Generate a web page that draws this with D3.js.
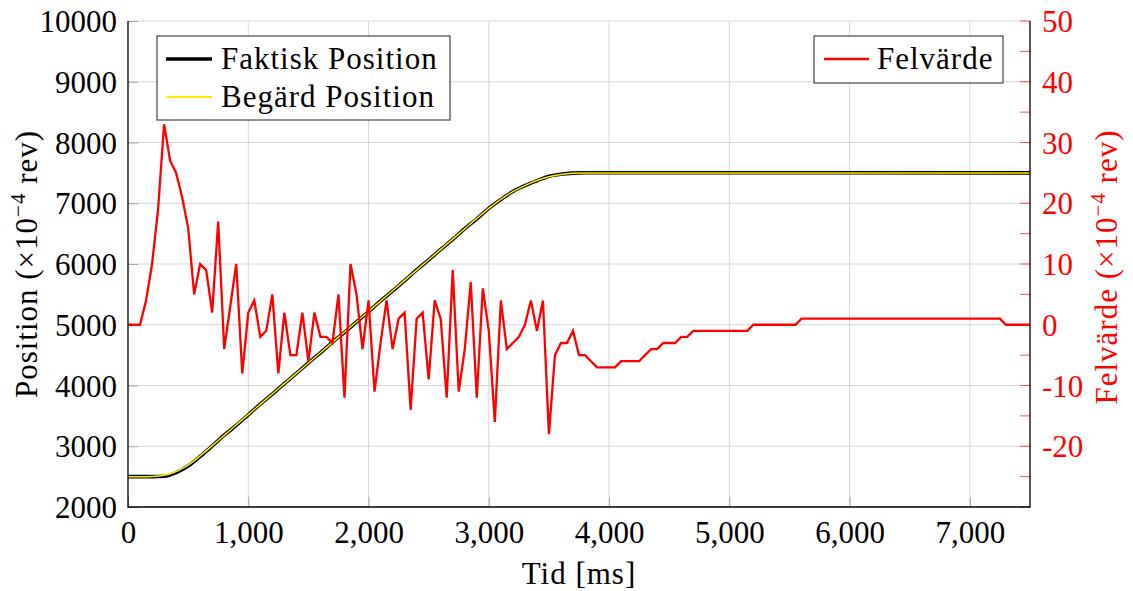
<!DOCTYPE html>
<html>
<head>
<meta charset="utf-8">
<script src="https://cdn.jsdelivr.net/npm/d3@7"></script>
<style>
	body { margin: 0; background: #fff; }
	text { font-family: 'Liberation Serif', 'Times New Roman', serif; }
</style>
</head>
<body>
<script>

// ------------------------ DATA ------------------------
// position samples (ms) and the two position curves (x10^-4 rev)
var posTime = [0, 100, 200, 300, 400, 500, 600, 700, 800, 900,
	1000, 1100, 1200, 1300, 1400, 1500, 1600, 1700, 1800, 1900,
	2000, 2100, 2200, 2300, 2400, 2500, 2600, 2700, 2800, 2900,
	3000, 3100, 3200, 3300, 3400, 3500, 3600, 3700, 3800, 7500];

var begardPos = [2500, 2500, 2503, 2521, 2585, 2691, 2840, 3010, 3180, 3350,
	3520, 3690, 3860, 4030, 4200, 4370, 4540, 4710, 4880, 5050,
	5220, 5390, 5560, 5730, 5900, 6070, 6240, 6410, 6580, 6750,
	6915, 7065, 7190, 7290, 7375, 7435, 7475, 7495, 7500, 7500];

var faktiskPos = [2500, 2500, 2500, 2505, 2565, 2675, 2832, 3005, 3182, 3342,
	3518, 3692, 3858, 4032, 4198, 4372, 4538, 4713, 4875, 5046,
	5216, 5393, 5556, 5728, 5902, 6068, 6239, 6404, 6582, 6744,
	6916, 7061, 7193, 7290, 7371, 7445, 7478, 7496, 7502, 7500];

// error signal, one sample every 50 ms from 0 to 7500 (x10^-4 rev)
var SAMPLE_MS = 50;
var felvarde = [
	0, 0, 0, 4, 10, 19, 33, 27, 25, 21,
	16, 5, 10, 9, 2, 17, -4, 3, 10, -8,
	2, 4, -2, -1, 5, -8, 2, -5, -5, 2,
	-6, 2, -2, -2, -3, 5, -12, 10, 5, -4,
	4, -11, -3, 4, -4, 1, 2, -14, 1, 2,
	-9, 4, 1, -12, 9, -11, -4, 7, -12, 6,
	-1, -16, 4, -4, -3, -2, 0, 4, -1, 4,
	-18, -5, -3, -3, -1, -5, -5, -6, -7, -7,
	-7, -7, -6, -6, -6, -6, -5, -4, -4, -3,
	-3, -3, -2, -2, -1, -1, -1, -1, -1, -1,
	-1, -1, -1, -1, 0, 0, 0, 0, 0, 0,
	0, 0, 1, 1, 1, 1, 1, 1, 1, 1,
	1, 1, 1, 1, 1, 1, 1, 1, 1, 1,
	1, 1, 1, 1, 1, 1, 1, 1, 1, 1,
	1, 1, 1, 1, 1, 1, 0, 0, 0, 0,
	0];

// tick values
var xTicks = [0, 1000, 2000, 3000, 4000, 5000, 6000, 7000];
var leftTicks = [2000, 3000, 4000, 5000, 6000, 7000, 8000, 9000, 10000];
var rightTicks = [-20, -10, 0, 10, 20, 30, 40, 50];
var rightMinor = [-30, -25, -20, -15, -10, -5, 0, 5, 10, 15, 20, 25, 30, 35, 40, 45, 50];

// ------------------------ LAYOUT ------------------------
var W = 1133, H = 591;
var L = 128, R = 1030, T = 21, B = 507;
var FONT = 31;
var SPACING = '1px';   // liberation serif runs a bit narrower than the original face
var GRID = '#d6d6d6';
var RED = '#ff0000';

var x = d3.scaleLinear().domain([0, 7500]).range([L, R]);
var yL = d3.scaleLinear().domain([2000, 10000]).range([B, T]);
var yR = d3.scaleLinear().domain([-30, 50]).range([B, T]);

var svg = d3.select('body').append('svg')
	.attr('width', W)
	.attr('height', H);

// ------------------------ GRID ------------------------
svg.append('g').selectAll('line.gx')
	.data(xTicks.slice(1))
	.enter().append('line')
	.attr('x1', function(d) { return x(d); })
	.attr('x2', function(d) { return x(d); })
	.attr('y1', T).attr('y2', B)
	.attr('stroke', GRID).attr('stroke-width', 1);

svg.append('g').selectAll('line.gy')
	.data(leftTicks.slice(1))
	.enter().append('line')
	.attr('x1', L).attr('x2', R)
	.attr('y1', function(d) { return yL(d); })
	.attr('y2', function(d) { return yL(d); })
	.attr('stroke', GRID).attr('stroke-width', 1);

// ------------------------ AXES ------------------------
// gray inner ticks on left and bottom, labels drawn by d3 axes
var axLeft = svg.append('g')
	.attr('transform', 'translate(' + L + ',0)')
	.call(d3.axisLeft(yL).tickValues(leftTicks).tickSize(-10).tickPadding(11).tickFormat(d3.format('d')));

var axBottom = svg.append('g')
	.attr('transform', 'translate(0,' + B + ')')
	.call(d3.axisBottom(x).tickValues(xTicks).tickSize(-10).tickPadding(12).tickFormat(d3.format(',')));

var axRight = svg.append('g')
	.attr('transform', 'translate(' + R + ',0)')
	.call(d3.axisRight(yR).tickValues(rightTicks).tickSize(0).tickPadding(12).tickFormat(function(d) { return d < 0 ? '-' + Math.abs(d) : d; }));

[axLeft, axBottom, axRight].forEach(function(a) {
	a.select('.domain').remove();
	a.selectAll('text')
		.attr('font-family', "'Liberation Serif', serif")
		.attr('font-size', FONT)
		.attr('fill', '#000');
	a.selectAll('.tick line').attr('stroke', '#a8a8a8');
});
axLeft.selectAll('text').attr('dy', '0.34em');
axBottom.selectAll('text').attr('dy', '0.78em');
axRight.selectAll('text').attr('fill', RED).attr('dy', '0.34em');

// red minor + major ticks on right side, pointing inward
svg.append('g').selectAll('line')
	.data(rightMinor)
	.enter().append('line')
	.attr('x1', R - 10).attr('x2', R)
	.attr('y1', function(d) { return yR(d); })
	.attr('y2', function(d) { return yR(d); })
	.attr('stroke', '#ff5050').attr('stroke-width', 1);

// ------------------------ LINES ------------------------
var posLine = function(vals) {
	return d3.line()
		.x(function(d, i) { return x(posTime[i]); })
		.y(function(d) { return yL(d); })
		.curve(d3.curveMonotoneX)(vals);
};

svg.append('path')
	.attr('d', posLine(faktiskPos))
	.attr('fill', 'none')
	.attr('stroke', '#000')
	.attr('stroke-width', 3.6);

svg.append('path')
	.attr('d', posLine(begardPos))
	.attr('fill', 'none')
	.attr('stroke', '#ffee00')
	.attr('stroke-width', 1.5);

var errLine = d3.line()
	.x(function(d, i) { return x(i * SAMPLE_MS); })
	.y(function(d) { return yR(d); });

svg.append('path')
	.attr('d', errLine(felvarde))
	.attr('fill', 'none')
	.attr('stroke', RED)
	.attr('stroke-width', 2.3)
	.attr('stroke-linejoin', 'miter');

// axis frame: left, bottom, right in black
svg.append('path')
	.attr('d', 'M' + L + ',' + T + 'V' + B + 'H' + R + 'V' + T)
	.attr('fill', 'none')
	.attr('stroke', '#000')
	.attr('stroke-width', 1.3);

// ------------------------ LEGENDS ------------------------
var leg1 = svg.append('g');
leg1.append('rect')
	.attr('x', 157).attr('y', 36).attr('width', 293).attr('height', 84)
	.attr('fill', '#fff').attr('stroke', '#444').attr('stroke-width', 1.2);
var leg1Items = [
	{ name: 'Faktisk Position', color: '#000', w: 3.6, y: 59 },
	{ name: 'Begärd Position', color: '#ffee00', w: 1.8, y: 97 }
];
leg1Items.forEach(function(it) {
	leg1.append('line')
		.attr('x1', 166).attr('x2', 212)
		.attr('y1', it.y).attr('y2', it.y)
		.attr('stroke', it.color).attr('stroke-width', it.w);
	leg1.append('text')
		.attr('x', 221).attr('y', it.y + 10)
		.attr('font-size', FONT)
		.attr('letter-spacing', SPACING)
		.text(it.name);
});

var leg2 = svg.append('g');
leg2.append('rect')
	.attr('x', 814).attr('y', 36).attr('width', 189).attr('height', 47)
	.attr('fill', '#fff').attr('stroke', '#444').attr('stroke-width', 1.2);
leg2.append('line')
	.attr('x1', 824).attr('x2', 869)
	.attr('y1', 59).attr('y2', 59)
	.attr('stroke', RED).attr('stroke-width', 2.3);
leg2.append('text')
	.attr('x', 877).attr('y', 69)
	.attr('font-size', FONT)
	.attr('letter-spacing', SPACING)
	.text('Felvärde');

// ------------------------ AXIS TITLES ------------------------
svg.append('text')
	.attr('x', (L + R) / 2).attr('y', 584)
	.attr('text-anchor', 'middle')
	.attr('font-size', FONT)
	.attr('letter-spacing', SPACING)
	.text('Tid [ms]');

function unitLabel(g, name) {
	g.append('tspan').text(name + ' (×10');
	g.append('tspan').attr('dy', -12).attr('font-size', 21).text('−4');
	g.append('tspan').attr('dy', 12).text(' rev)');
}

var ylab = svg.append('text')
	.attr('transform', 'translate(37,' + ((T + B) / 2) + ') rotate(-90)')
	.attr('text-anchor', 'middle')
	.attr('font-size', FONT)
	.attr('letter-spacing', SPACING);
unitLabel(ylab, 'Position');

var rlab = svg.append('text')
	.attr('transform', 'translate(1117,' + ((T + B) / 2 + 3) + ') rotate(-90)')
	.attr('text-anchor', 'middle')
	.attr('font-size', FONT)
	.attr('letter-spacing', SPACING)
	.attr('fill', RED);
unitLabel(rlab, 'Felvärde');

</script>
</body>
</html>
